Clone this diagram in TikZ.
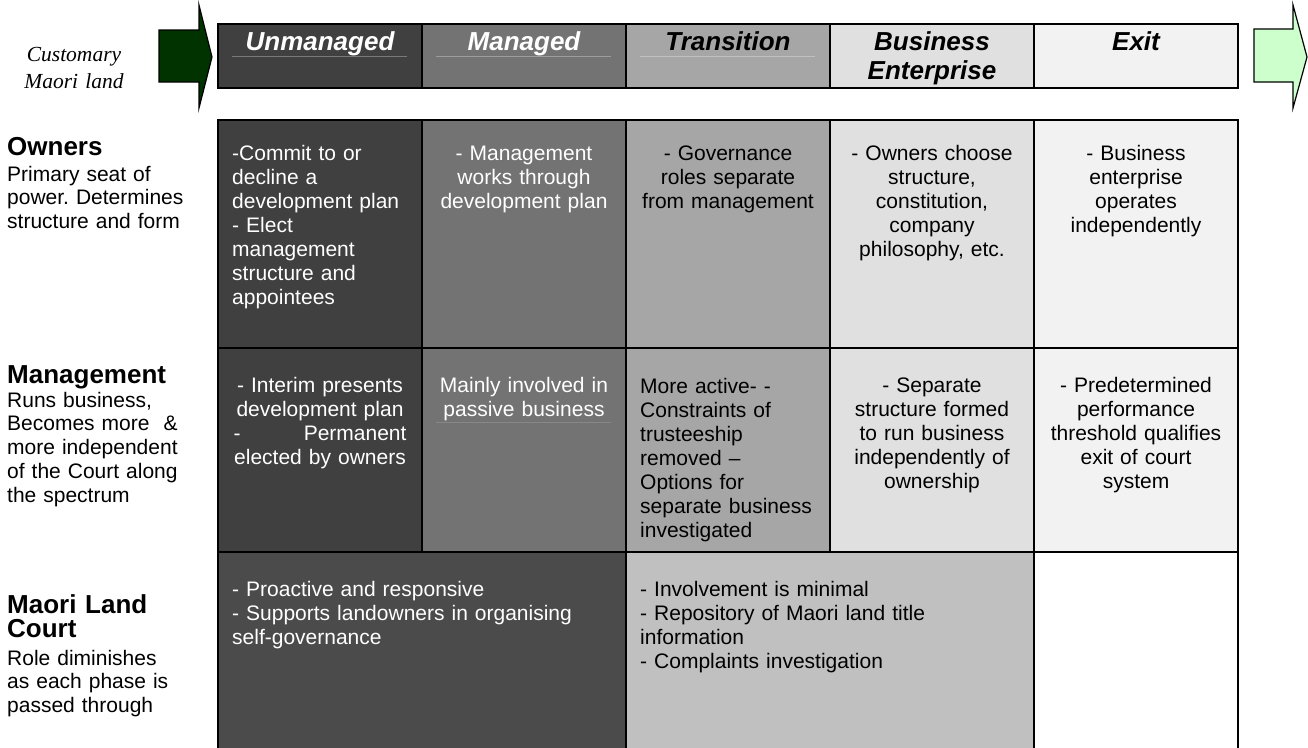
\documentclass[tikz,border=0pt]{standalone}
\usepackage{fontspec}
\setmainfont{Liberation Sans}
\newfontfamily\serifit{Liberation Serif}
\frenchspacing
\definecolor{cA}{HTML}{404040}
\definecolor{cB}{HTML}{737373}
\definecolor{cC}{HTML}{A6A6A6}
\definecolor{cD}{HTML}{E0E0E0}
\definecolor{cE}{HTML}{F2F2F2}
\definecolor{rA}{HTML}{4B4B4B}
\definecolor{rC}{HTML}{C0C0C0}
\definecolor{dgreen}{HTML}{003300}
\definecolor{lgreen}{HTML}{CCFFCC}
\begin{document}
\begin{tikzpicture}[x=1pt,y=-1pt,
  cell/.style={inner sep=0pt, font=\fontsize{21}{24.15}\selectfont},
  ctext/.style={cell, anchor=base, text width=200pt, align=center},
  ltext/.style={cell, anchor=base west, text width=390pt, align=left},
  hdr/.style={inner sep=0pt, anchor=base, text width=200pt, align=center, font=\fontsize{26}{29.9}\selectfont\bfseries\itshape},
  rowhead/.style={inner sep=0pt, anchor=base west, text width=210pt, align=left, font=\fontsize{26}{24}\selectfont\bfseries},
  rowdesc/.style={inner sep=0pt, anchor=base west, text width=210pt, align=left, font=\fontsize{21}{23.8}\selectfont},
  gridline/.style={line width=2pt, draw=black},
  uline/.style={draw=white, draw opacity=0.3, line width=0.8pt},
  arrowshape/.style={draw=black, line width=1.2pt, line join=miter},
]
\useasboundingbox (0,0) rectangle (1308,747);
\clip (0,0) rectangle (1308,747);

% ---------- arrows ----------
\draw[arrowshape, fill=dgreen] (159,30) -- (199,30) -- (199,5) -- (212,57) -- (199,108) -- (199,82) -- (159,82) -- cycle;
\draw[arrowshape, fill=lgreen] (1254,29) -- (1293,29) -- (1293,5) -- (1307,57) -- (1293,108) -- (1293,82) -- (1254,82) -- cycle;

\node[inner sep=0pt, anchor=base, text width=120pt, align=center, font=\fontsize{21.5}{27}\selectfont\serifit\itshape] (customary) at (74,61) {Customary\\Maori land};

% ---------- header ----------
\fill[cA] (218,24) rectangle (422,88);
\fill[cB] (422,24) rectangle (626,88);
\fill[cC] (626,24) rectangle (830,88);
\fill[cD] (830,24) rectangle (1034,88);
\fill[cE] (1034,24) rectangle (1238,88);
\draw[uline] (232,56) -- (407,56);
\draw[uline] (436,56) -- (611,56);
\draw[uline] (640,56) -- (815,56);
\draw[gridline] (218,24) rectangle (1238,88);
\foreach \x in {422,626,830,1034} \draw[gridline] (\x,24) -- (\x,88);

\node[hdr, text=white] (h1) at (320,50) {Unmanaged};
\node[hdr, text=white] (h2) at (524,50) {Managed};
\node[hdr] (h3) at (728,50) {Transition};
\node[hdr] (h4) at (932,50) {Business\\Enterprise};
\node[hdr] (h5) at (1136,50) {Exit};

% ---------- body fills ----------
\fill[cA] (218,120) rectangle (422,552);
\fill[cB] (422,120) rectangle (626,552);
\fill[cC] (626,120) rectangle (830,552);
\fill[cD] (830,120) rectangle (1034,552);
\fill[cE] (1034,120) rectangle (1238,552);
\fill[rA] (218,552) rectangle (626,760);
\fill[rC] (626,552) rectangle (1034,760);
\fill[white] (1034,552) rectangle (1238,760);
\draw[uline, draw opacity=0.15] (436,422) -- (611,422);

% ---------- body grid ----------
\draw[gridline] (218,760) -- (218,120) -- (1238,120) -- (1238,760);
\draw[gridline] (218,348) -- (1238,348);
\draw[gridline] (218,552) -- (1238,552);
\foreach \x in {422,830} \draw[gridline] (\x,120) -- (\x,552);
\foreach \x in {626,1034} \draw[gridline] (\x,120) -- (\x,760);

% ---------- row labels ----------
\node[rowhead] (owners) at (7,155) {Owners};
\node[rowdesc] (ownersd) at (7,181) {Primary seat of\\power. Determines\\structure and form};
\node[rowhead] (mgmt) at (7,383) {Management};
\node[rowdesc] (mgmtd) at (7,407) {Runs business,\\Becomes more\ \ \&\\more independent\\of the Court along\\the spectrum};
\node[rowhead] (court) at (7,613) {Maori Land\\Court};
\node[rowdesc] (courtd) at (7,665) {Role diminishes\\as each phase is\\passed through};

% ---------- row 1 ----------
\node[ltext, text=white] (r1c1) at (232,160) {-Commit to or\\decline a\\development plan\\- Elect\\management\\structure and\\appointees};
\node[ctext, text=white] (r1c2) at (524,160) {- Management\\works through\\development plan};
\node[ctext] (r1c3) at (728,160) {- Governance\\roles separate\\from management};
\node[ctext] (r1c4) at (932,160) {- Owners choose\\structure,\\constitution,\\company\\philosophy, etc.};
\node[ctext] (r1c5) at (1136,160) {- Business\\enterprise\\operates\\independently};

% ---------- row 2 ----------
\node[ctext, text=white] (r2c1) at (320,392) {- Interim presents\\development plan\\\makebox[173pt]{-\hfill Permanent}\\elected by owners};
\node[ctext, text=white] (r2c2) at (524,392) {Mainly involved in\\passive business};
\node[ltext] (r2c3) at (640,393) {More active- -\\Constraints of\\trusteeship\\removed --\\Options for\\separate business\\investigated};
\node[ctext] (r2c4) at (932,392) {- Separate\\structure formed\\to run business\\independently of\\ownership};
\node[ctext] (r2c5) at (1136,392) {- Predetermined\\performance\\threshold qualifies\\exit of court\\system};

% ---------- row 3 ----------
\node[ltext, text=white] (r3a) at (232,596) {- Proactive and responsive\\- Supports landowners in organising\\self-governance};
\node[ltext] (r3b) at (640,596) {- Involvement is minimal\\- Repository of Maori land title\\information\\- Complaints investigation};
\end{tikzpicture}
\end{document}
